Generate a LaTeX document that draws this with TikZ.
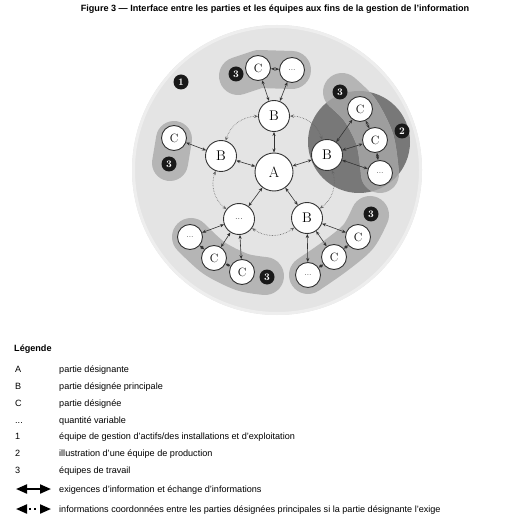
\documentclass[tikz,border=0pt]{standalone}
\usepackage{fontspec}
\newfontfamily\arial{Liberation Sans}
\usetikzlibrary{arrows.meta}
\definecolor{outergray}{HTML}{E4E4E4}
\definecolor{rimgray}{HTML}{EEEEEE}
\definecolor{teamgray}{HTML}{B5B5B5}
\definecolor{prodgray}{HTML}{787878}
\definecolor{bandgray}{HTML}{9E9E9E}
\definecolor{linkgray}{HTML}{333333}
\begin{document}
\begin{tikzpicture}[x=1pt,y=-1pt,
 party/.style={circle,draw=linkgray,fill=white,line width=0.9pt,inner sep=0pt},
 pa/.style={party,minimum size=38pt,font=\fontsize{15}{15}\selectfont},
 pb/.style={party,minimum size=31pt,font=\fontsize{14}{14}\selectfont},
 pc/.style={party,minimum size=25pt,font=\fontsize{12}{12}\selectfont},
 tag/.style={circle,fill=black!90,text=white,minimum size=15pt,inner sep=0pt,font=\fontsize{10}{10}\selectfont\bfseries},
 link/.style={draw=linkgray,line width=0.6pt,{Stealth[length=4pt,width=3.2pt]}-{Stealth[length=4pt,width=3.2pt]}},
 coordlink/.style={draw=black!60,line width=0.6pt,densely dotted,{Stealth[length=4pt,width=3.2pt]}-{Stealth[length=4pt,width=3.2pt]}},
 team/.style={line width=38pt,line cap=round,line join=round,draw=teamgray},
 legtext/.style={anchor=base west,inner sep=0pt,font=\arial\fontsize{9.1}{9.1}\selectfont},
 legkey/.style={anchor=base west,inner sep=0pt,font=\arial\fontsize{9.1}{9.1}\selectfont}
]
\useasboundingbox (0,0) rectangle (504,526);
% title
\node[font=\arial\bfseries\fontsize{9.1}{9.1}\selectfont] (title) at (275,9) {Figure 3 — Interface entre les parties et les équipes aux fins de la gestion de l’information};
% outer team 1
\fill[outergray] (277,170) circle[radius=145];
\draw[rimgray,line width=3pt] (277,170) circle[radius=143.5];
% work teams
\draw[team] (238,76) -- (259,69) -- (292,70);
\draw[team,line width=36pt] (174,139) -- (170,163);
\draw[team] plot[smooth] coordinates {(191,237) (214,258) (242,272) (265,276)};
\draw[team] plot[smooth] coordinates {(308,275) (334,257) (358,237) (370,215)};
% production team
\fill[prodgray] (359,142) circle[radius=51];
\draw[team] plot[smooth] coordinates {(342,92) (360,110) (375,140) (380,174)};
\begin{scope}
\clip (359,142) circle[radius=51];
\draw[team,draw=bandgray] plot[smooth] coordinates {(342,92) (360,110) (375,140) (380,174)};
\end{scope}
% tags
\node[tag] (t1) at (181,82) {1};
\node[tag] (t3a) at (236,74) {3};
\node[tag] (t3b) at (169,164) {3};
\node[tag] (t3c) at (340,92) {3};
\node[tag] (t2) at (402,131) {2};
\node[tag] (t3d) at (267,277) {3};
\node[tag] (t3e) at (371,214) {3};
% main parties
\node[pa] (A) at (274,172) {A};
\node[pb] (Bt) at (274,116) {B};
\node[pb] (Bl) at (221,156) {B};
\node[pb] (Br) at (327,155) {B};
\node[pb] (Bbr) at (307,218) {B};
\node[pb,font=\fontsize{9}{9}\selectfont] (Dbl) at (239,219) {...};
% top group
\node[pc] (Ct) at (258,68) {C};
\node[pc,font=\fontsize{8}{8}\selectfont] (Dt) at (292,70) {...};
% left group
\node[pc] (Cl) at (174,138) {C};
% right group
\node[pc] (Cr1) at (360,109) {C};
\node[pc] (Cr2) at (375,140) {C};
\node[pc,font=\fontsize{8}{8}\selectfont] (Dr) at (380,173) {...};
% bottom-left group
\node[pc,font=\fontsize{8}{8}\selectfont] (Dbl2) at (190,237) {...};
\node[pc] (Cbl1) at (214,258) {C};
\node[pc] (Cbl2) at (242,272) {C};
% bottom-right group
\node[pc] (Cbr1) at (358,237) {C};
\node[pc] (Cbr2) at (334,257) {C};
\node[pc,font=\fontsize{8}{8}\selectfont] (Dbr) at (308,275) {...};
% links
\foreach \n in {Bt,Bl,Br,Bbr,Dbl} \draw[link] (A) -- (\n);
\draw[link] (Bt) -- (Ct);
\draw[link] (Bt) -- (Dt);
\draw[link] (Ct) -- (Dt);
\draw[link] (Bl) -- (Cl);
\draw[link] (Br) -- (Cr1);
\draw[link] (Br) -- (Cr2);
\draw[link] (Br) -- (Dr);
\draw[link] (Cr1) -- (Cr2);
\draw[link] (Cr2) -- (Dr);
\draw[link] (Dbl) -- (Dbl2);
\draw[link] (Dbl) -- (Cbl1);
\draw[link] (Dbl) -- (Cbl2);
\draw[link] (Dbl2) -- (Cbl1);
\draw[link] (Cbl1) -- (Cbl2);
\draw[link] (Bbr) -- (Cbr1);
\draw[link] (Bbr) -- (Cbr2);
\draw[link] (Bbr) -- (Dbr);
\draw[link] (Cbr1) -- (Cbr2);
\draw[link] (Cbr2) -- (Dbr);
% coordinated information arcs
\draw[coordlink] (Bt) to[bend left=36] (Br);
\draw[coordlink] (Br) to[bend left=36] (Bbr);
\draw[coordlink] (Bbr) to[bend left=36] (Dbl);
\draw[coordlink] (Dbl) to[bend left=36] (Bl);
\draw[coordlink] (Bl) to[bend left=36] (Bt);
% legend
\node[anchor=base west,inner sep=0pt,font=\arial\bfseries\fontsize{9.1}{9.1}\selectfont] (leg) at (14,351) {Légende};
\node[legkey] (kA) at (15,372) {A};
\node[legtext] (lA) at (59,372) {partie désignante};
\node[legkey] (kB) at (15,389) {B};
\node[legtext] (lB) at (59,389) {partie désignée principale};
\node[legkey] (kC) at (15,406) {C};
\node[legtext] (lC) at (59,406) {partie désignée};
\node[legkey] (kD) at (15,423) {...};
\node[legtext] (lD) at (59,423) {quantité variable};
\node[legkey] (k1) at (15,439.5) {1};
\node[legtext] (l1) at (59,439.5) {équipe de gestion d’actifs/des installations et d’exploitation};
\node[legkey] (k2) at (15,456.5) {2};
\node[legtext] (l2) at (59,456.5) {illustration d’une équipe de production};
\node[legkey] (k3) at (15,473.5) {3};
\node[legtext] (l3) at (59,473.5) {équipes de travail};
\coordinate (a1s) at (16,489);
\coordinate (a1e) at (51,489);
\draw[line width=2pt,{Triangle[length=11pt,width=9pt]}-{Triangle[length=11pt,width=9pt]}] (a1s) -- (a1e);
\node[legtext] (lE) at (59,492.5) {exigences d’information et échange d’informations};
\coordinate (a2s) at (16,509);
\coordinate (a2e) at (51,509);
\draw[line width=2pt,dash pattern=on 0pt off 2.5pt on 2pt off 3pt on 2pt off 20pt,{Triangle[length=11pt,width=9pt]}-{Triangle[length=11pt,width=9pt]}] (a2s) -- (a2e);
\node[legtext] (lF) at (59,512.5) {informations coordonnées entre les parties désignées principales si la partie désignante l’exige};
\end{tikzpicture}
\end{document}
